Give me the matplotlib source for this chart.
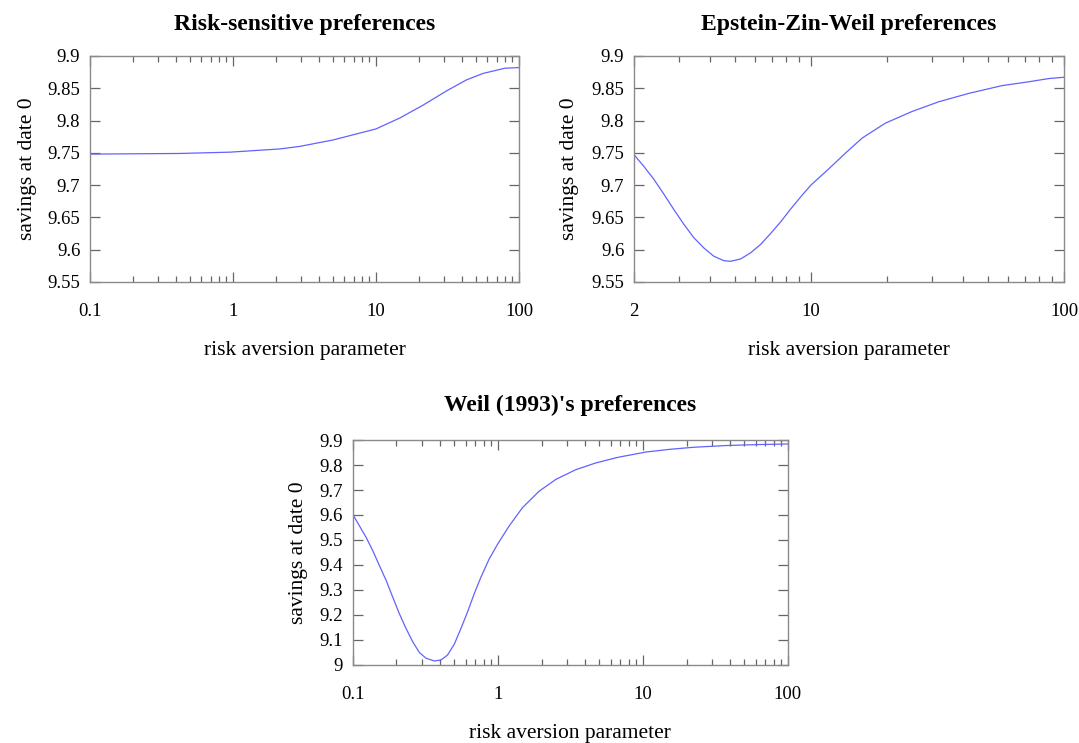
import matplotlib
matplotlib.use('Agg')
import matplotlib.pyplot as plt
from matplotlib.ticker import LogLocator, NullFormatter, FixedLocator, FixedFormatter

plt.rcParams['font.family'] = ['Liberation Serif', 'DejaVu Serif']

# values
rs_gamma = [0.1, 0.426, 0.95, 2.13, 2.94, 5.03, 10, 14.7, 21.4, 31.2, 43, 56.2, 79.8, 100]
rs_saving = [9.748, 9.749, 9.751, 9.756, 9.760, 9.770, 9.787, 9.804, 9.824, 9.846, 9.863, 9.873, 9.881, 9.882]

ezw_gamma = [2.0, 2.177, 2.386, 2.614, 2.864, 3.138, 3.438, 3.767, 4.128, 4.523, 4.808, 5.268,
             5.77, 6.32, 6.93, 7.59, 8.32, 9.12, 10.0, 11.9, 13.73, 15.96, 19.7, 25.1,
             31.97, 42.0, 56.8, 72.6, 87.1, 100]
ezw_saving = [9.747, 9.730, 9.710, 9.687, 9.663, 9.640, 9.619, 9.603, 9.590, 9.583, 9.582, 9.5855,
              9.595, 9.608, 9.625, 9.643, 9.663, 9.682, 9.700, 9.727, 9.750, 9.773, 9.796, 9.814,
              9.829, 9.842, 9.854, 9.860, 9.865, 9.867]

weil_gamma = [0.1, 0.1112, 0.1236, 0.1373, 0.1527, 0.1698, 0.1885, 0.2094, 0.2328, 0.2587, 0.2875,
              0.3197, 0.3648, 0.4055, 0.450, 0.5006, 0.5565, 0.618, 0.687, 0.764, 0.871, 1.0,
              1.196, 1.477, 1.923, 2.505, 3.44, 4.72, 6.64, 10.5, 15.5, 22.4, 38, 64.6, 100]
weil_saving = [9.602, 9.556, 9.510, 9.457, 9.397, 9.338, 9.271, 9.205, 9.146, 9.093, 9.050,
               9.027, 9.016, 9.020, 9.040, 9.083, 9.146, 9.212, 9.285, 9.351, 9.424, 9.485,
               9.556, 9.629, 9.695, 9.742, 9.781, 9.808, 9.830, 9.852, 9.863, 9.871, 9.878, 9.882, 9.884]

rs_xticks = [0.1, 1, 10, 100]
rs_xlabels = ['0.1', '1', '10', '100']
ezw_xticks = [2, 10, 100]
ezw_xlabels = ['2', '10', '100']
top_yticks = [9.55, 9.6, 9.65, 9.7, 9.75, 9.8, 9.85, 9.9]
top_ylabels = ['9.55', '9.6', '9.65', '9.7', '9.75', '9.8', '9.85', '9.9']
weil_yticks = [9.0, 9.1, 9.2, 9.3, 9.4, 9.5, 9.6, 9.7, 9.8, 9.9]
weil_ylabels = ['9', '9.1', '9.2', '9.3', '9.4', '9.5', '9.6', '9.7', '9.8', '9.9']

LINE = '#6262ff'
FRAME = '#8a8a8a'


def style_panel(ax, title, x, y, xlim, xticks, xlabels, ylim, yticks, ylabels, ylab_x, xlab_y, title_y):
    ax.plot(x, y, color=LINE, lw=0.9)
    ax.set_xscale('log')
    ax.set_xlim(xlim)
    ax.set_ylim(ylim)
    ax.xaxis.set_major_locator(FixedLocator(xticks))
    ax.xaxis.set_major_formatter(FixedFormatter(xlabels))
    ax.xaxis.set_minor_locator(LogLocator(base=10, subs=range(2, 10)))
    ax.xaxis.set_minor_formatter(NullFormatter())
    ax.yaxis.set_major_locator(FixedLocator(yticks))
    ax.yaxis.set_major_formatter(FixedFormatter(ylabels))
    for s in ax.spines.values():
        s.set_color(FRAME)
        s.set_linewidth(1.0)
    ax.tick_params(axis='both', which='both', direction='in', top=True, right=True,
                   color='#666666', width=0.9, labelsize=13.5)
    ax.tick_params(axis='x', which='major', length=7, pad=15)
    ax.tick_params(axis='x', which='minor', length=4)
    ax.tick_params(axis='y', which='major', length=7, pad=7)
    ax.set_title(title, fontsize=17, fontweight='bold', y=title_y, va='center', pad=0)
    ax.set_xlabel('risk aversion parameter', fontsize=15.5)
    ax.xaxis.set_label_coords(0.5, xlab_y)
    ax.xaxis.label.set_va('center')
    ax.set_ylabel('savings at date 0', fontsize=15.5)
    ax.yaxis.set_label_coords(ylab_x, 0.5)
    ax.yaxis.label.set_va('center')


fig = plt.figure(figsize=(10.79, 7.43), dpi=100)
ax1 = fig.add_axes([0.0834, 0.6205, 0.3976, 0.3042])
ax2 = fig.add_axes([0.5876, 0.6205, 0.3985, 0.3042])
ax3 = fig.add_axes([0.3270, 0.105, 0.4032, 0.3028])

style_panel(ax1, 'Risk-sensitive preferences', rs_gamma, rs_saving, (0.1, 100),
            rs_xticks, rs_xlabels, (9.55, 9.9), top_yticks, top_ylabels, -0.145, -0.302, 1.137)
style_panel(ax2, 'Epstein-Zin-Weil preferences', ezw_gamma, ezw_saving, (2, 100),
            ezw_xticks, ezw_xlabels, (9.55, 9.9), top_yticks, top_ylabels, -0.150, -0.302, 1.137)
style_panel(ax3, "Weil (1993)'s preferences", weil_gamma, weil_saving, (0.1, 100),
            rs_xticks, rs_xlabels, (9.0, 9.9), weil_yticks, weil_ylabels, -0.124, -0.305, 1.152)

fig.savefig('out.png', dpi=100, facecolor='white')
